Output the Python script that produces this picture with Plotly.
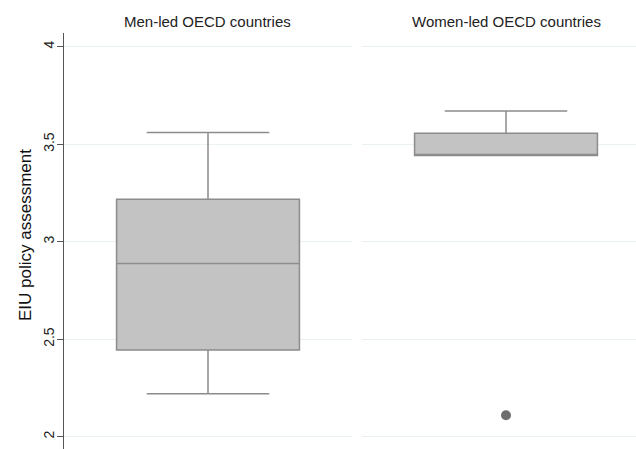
import plotly.graph_objects as go

panels = ["Men-led OECD countries", "Women-led OECD countries"]
lower_whisker = [2.22, 3.442]
q1 = [2.444, 3.442]
median = [2.888, 3.442]
q3 = [3.218, 3.556]
upper_whisker = [3.560, 3.670]
outliers = [[], [2.11]]

y_ticks = [2, 2.5, 3, 3.5, 4]
y_tick_labels = ["2", "2.5", "3", "3.5", "4"]
y_title = "EIU policy assessment"

W, H = 636, 449
ML, MT = 64, 33
plot_w = W - ML
plot_h = H - MT
left_dom = [0, (352 - ML) / plot_w]
right_dom = [(362 - ML) / plot_w, 1.0]

fig = go.Figure()

box_fill = "#c3c3c3"
box_line = "#8c8c8c"
grid_col = "#e9f1f2"

for i, name in enumerate(panels):
    xa = "x" if i == 0 else "x2"
    ya = "y" if i == 0 else "y2"
    fig.add_trace(go.Box(
        x=[0], q1=[q1[i]], median=[median[i]], q3=[q3[i]],
        lowerfence=[lower_whisker[i]], upperfence=[upper_whisker[i]],
        width=0.635, whiskerwidth=0.67,
        fillcolor=box_fill, line=dict(color=box_line, width=1.5),
        boxpoints=False, xaxis=xa, yaxis=ya, showlegend=False, name=name,
    ))
    if outliers[i]:
        fig.add_trace(go.Scatter(
            x=[0] * len(outliers[i]), y=outliers[i], mode="markers",
            marker=dict(color="#6e6e6e", size=10),
            xaxis=xa, yaxis=ya, showlegend=False,
        ))

yr = [1.937, 4.07]


def px_x(px):
    return (px - ML) / plot_w


def px_y(py):
    return 1 - (py - MT) / plot_h


fig.update_layout(
    width=W, height=H,
    margin=dict(l=ML, r=0, t=MT, b=0),
    paper_bgcolor="white", plot_bgcolor="white",
    font=dict(family="Liberation Sans, Arial, sans-serif", color="#222"),
    xaxis=dict(domain=left_dom, range=[-0.5, 0.5], visible=False),
    xaxis2=dict(domain=right_dom, range=[-0.5, -0.5 + 274 / 288], visible=False),
    yaxis=dict(range=yr, tickvals=y_ticks, ticktext=y_tick_labels,
               tickangle=-90, ticks="outside", ticklen=6, tickcolor="#555",
               ticklabelstandoff=-3,
               showline=True, linecolor="#555", linewidth=1.2,
               showgrid=True, gridcolor=grid_col, gridwidth=1, zeroline=False,
               tickfont=dict(size=14, color="#222")),
    yaxis2=dict(anchor="x2", range=yr, tickvals=y_ticks, showticklabels=False,
                showgrid=True, gridcolor=grid_col, gridwidth=1, zeroline=False,
                showline=False, ticks=""),
    annotations=[
        dict(text=panels[0], x=px_x(207.5), y=px_y(21), xref="paper", yref="paper",
             showarrow=False, font=dict(size=15, color="#222"), xanchor="center", yanchor="middle"),
        dict(text=panels[1], x=px_x(506), y=px_y(21), xref="paper", yref="paper",
             showarrow=False, font=dict(size=15, color="#222"), xanchor="center", yanchor="middle"),
        dict(text=y_title, x=px_x(25), y=px_y(235), xref="paper", yref="paper", textangle=-90,
             showarrow=False, font=dict(size=17, color="#111"), xanchor="center", yanchor="middle"),
    ],
)

fig.write_html("out.html")
